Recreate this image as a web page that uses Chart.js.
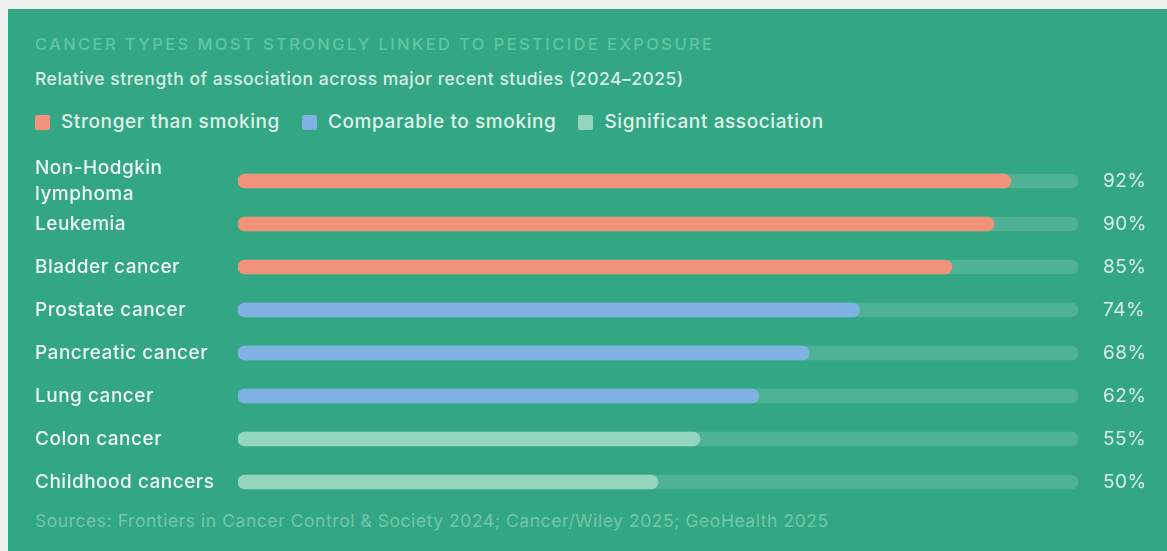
<!DOCTYPE html>
<html>
<head>
<meta charset="utf-8">
<script src="https://cdn.jsdelivr.net/npm/chart.js@4"></script>
<style>
  html, body { margin: 0; padding: 0; width: 1167px; height: 551px; background: #eef0ee; overflow: hidden; }
  body { font-family: "Inter", "Noto Sans", sans-serif; }
  .card { position: absolute; left: 8px; top: 9px; right: 0; bottom: 0; background: #33a683; }
  .txt { position: absolute; left: 35px; white-space: nowrap; }
  #titre { top: 32px; line-height: 24px; font-size: 16.5px; letter-spacing: 2.4px; color: #5fc69e; font-weight: 500; }
  #alt { top: 67px; line-height: 24px; font-size: 17.5px; letter-spacing: 0.5px; color: #d6efe4; font-weight: 500; }
  #lejant { top: 110px; line-height: 24px; font-size: 19px; letter-spacing: 0.6px; color: #dff3ea; font-weight: 500; display: flex; align-items: center; }
  #lejant span.kutu { display: inline-block; width: 15px; height: 15px; border-radius: 2px; margin-right: 11px; }
  #lejant span.ad { margin-right: 22px; }
  #kaynak { top: 509px; line-height: 24px; font-size: 17.5px; letter-spacing: 0.55px; color: #70c9a6; }
  #grafik-kutu { position: absolute; left: 35px; top: 150px; width: 1132px; height: 360px; }
</style>
</head>
<body>
<div class="card"></div>
<div class="txt" id="titre">CANCER TYPES MOST STRONGLY LINKED TO PESTICIDE EXPOSURE</div>
<div class="txt" id="alt">Relative strength of association across major recent studies (2024–2025)</div>
<div class="txt" id="lejant"></div>
<div class="txt" id="kaynak">Sources: Frontiers in Cancer Control &amp; Society 2024; Cancer/Wiley 2025; GeoHealth 2025</div>
<div id="grafik-kutu"><canvas id="grafik"></canvas></div>

<script>
// Veriler
const kategoriler = [['Non-Hodgkin', 'lymphoma'], 'Leukemia', 'Bladder cancer', 'Prostate cancer',
  'Pancreatic cancer', 'Lung cancer', 'Colon cancer', 'Childhood cancers'];
const degerler = [92, 90, 85, 74, 68, 62, 55, 50];
const gruplar = ['strong', 'strong', 'strong', 'comparable', 'comparable', 'comparable', 'significant', 'significant'];
const grupAdlari = ['Stronger than smoking', 'Comparable to smoking', 'Significant association'];
const grupAnahtar = ['strong', 'comparable', 'significant'];
const tamOlcek = [100, 100, 100, 100, 100, 100, 100, 100];

// Renkler
const renkler = { strong: '#f1937a', comparable: '#80b2e3', significant: '#94d5be' };

// Lejant
const lejant = document.getElementById('lejant');
grupAnahtar.forEach(function(k, i) {
  lejant.insertAdjacentHTML('beforeend',
    '<span class="kutu" style="background:' + renkler[k] + '"></span><span class="ad">' + grupAdlari[i] + '</span>');
});

const yuzdeler = degerler.map(function(v) { return v + '%'; });

// Canvas yazılarına harf aralığı ver
const harfAraligi = {
  id: 'harfAraligi',
  beforeLayout: function(chart) { chart.ctx.letterSpacing = '0.5px'; },
  beforeDraw: function(chart) { chart.ctx.letterSpacing = '0.5px'; }
};

// Etiketlerin ekstra iç boşluğunu kaldır
function eksenSigdir(genislik) {
  return function(scale) {
    scale.width = genislik;
    scale.paddingTop = 0;
    scale.paddingBottom = 0;
  };
}

new Chart(document.getElementById('grafik'), {
  type: 'bar',
  data: {
    labels: kategoriler,
    datasets: [
      {
        data: degerler,
        backgroundColor: gruplar.map(function(g) { return renkler[g]; }),
        barThickness: 14,
        borderRadius: 7,
        borderSkipped: false,
        grouped: false,
        order: 0
      },
      {
        data: tamOlcek,
        backgroundColor: 'rgba(255,255,255,0.14)',
        barThickness: 14,
        borderRadius: 7,
        borderSkipped: false,
        grouped: false,
        order: 1
      }
    ]
  },
  plugins: [harfAraligi],
  options: {
    indexAxis: 'y',
    responsive: true,
    maintainAspectRatio: false,
    animation: false,
    layout: { padding: { top: 9.5, bottom: 6.5, left: 0, right: 0 } },
    plugins: { legend: { display: false }, tooltip: { enabled: false } },
    scales: {
      x: { display: false, min: 0, max: 100 },
      y: {
        offset: true,
        border: { display: false },
        grid: { display: false, drawTicks: false },
        ticks: {
          autoSkip: false,
          crossAlign: 'far',
          color: '#eef8f3',
          font: { family: 'Inter', size: 19, weight: '500', lineHeight: 1.37 }
        },
        afterFit: eksenSigdir(203)
      },
      y2: {
        type: 'category',
        position: 'right',
        labels: yuzdeler,
        offset: true,
        border: { display: false },
        grid: { display: false, drawTicks: false },
        ticks: {
          autoSkip: false,
          padding: 25,
          color: '#d8efe5',
          font: { family: 'Inter', size: 19, weight: '400' }
        },
        afterFit: eksenSigdir(89)
      }
    }
  }
});
</script>
</body>
</html>
